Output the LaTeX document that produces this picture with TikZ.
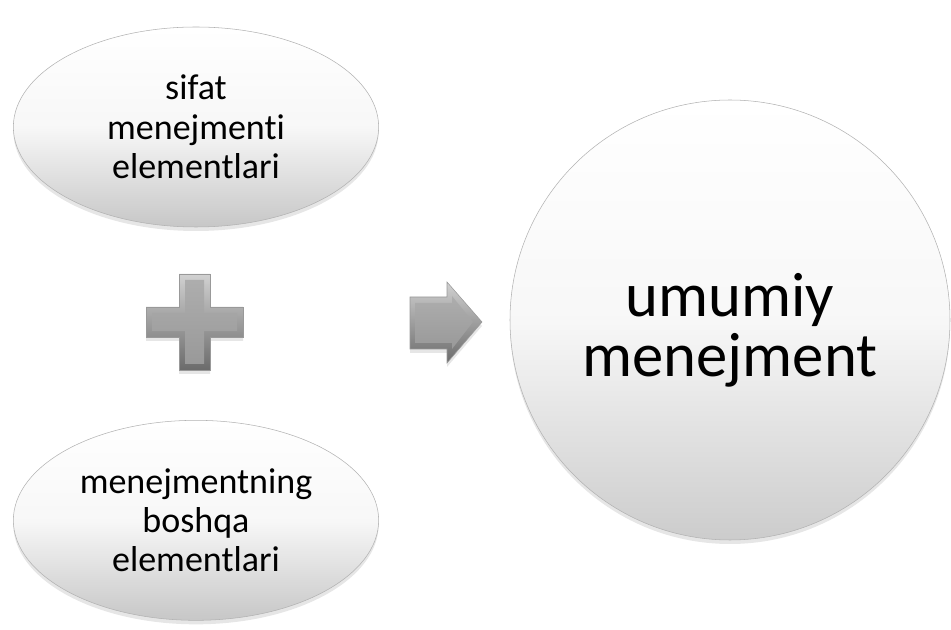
\documentclass[tikz,border=0pt]{standalone}
\usepackage{fontspec}
\setmainfont{Carlito}[Ligatures={NoCommon,NoRequired,NoContextual}]
\usetikzlibrary{shapes.geometric,shadows,positioning}

\begin{document}
\begin{tikzpicture}[x=0.75pt,y=-0.75pt,node distance=295pt,thin,
    main node/.style={ellipse,draw=black!30,top color=white,bottom color=black!22,middle color=black!3,minimum width=274pt,minimum height=150pt,inner sep=0pt,align=center,font=\fontsize{27}{29.5}\selectfont,drop shadow={opacity=0.2,shadow xshift=0pt,shadow yshift=-3pt}},
    big node/.style={circle,draw=black!30,top color=white,bottom color=black!20,middle color=black!3,minimum size=330pt,inner sep=0pt,drop shadow={opacity=0.2,shadow xshift=0pt,shadow yshift=-3pt}},
    big text/.style={align=center,inner sep=0pt,font=\fontsize{47}{45}\selectfont},
    bevel edge/.style={draw=black!40,top color=black!18,bottom color=black!58,drop shadow={opacity=0.2,shadow xshift=0pt,shadow yshift=-3pt}},
    bevel face/.style={top color=black!32,bottom color=black!40}]

                    \useasboundingbox (0,0) rectangle (951,630);

                    \node (1) [main node] at (196,127) {sifat\\menejmenti\\elementlari};
                    \node (2) [main node, below of=1] {menejmentning\\boshqa\\elementlari};
                    \node (4) [big node] at (730,320) {};
                    \node (5) [big text] at (4.center) [yshift=-8pt] {umumiy\\menejment};

                    \coordinate (3) at (194.5,322);

                    \path[bevel edge]
                    (179,274) -- (210,274) -- (210,307) -- (243,307) -- (243,337) -- (210,337) -- (210,370) -- (179,370) -- (179,337) -- (146,337) -- (146,307) -- (179,307) -- cycle;
                    \path[bevel face]
                    (185,280) -- (204,280) -- (204,313) -- (237,313) -- (237,331) -- (204,331) -- (204,364) -- (185,364) -- (185,331) -- (152,331) -- (152,313) -- (185,313) -- cycle;

                    \path[bevel edge]
                    (410,297) -- (447,297) -- (447,282) -- (482,322) -- (447,363) -- (447,349) -- (410,349) -- cycle;
                    \path[bevel face]
                    (415,303) -- (452,303) -- (452,296) -- (473,322) -- (452,349) -- (452,343) -- (415,343) -- cycle;
                \end{tikzpicture}
\end{document}
